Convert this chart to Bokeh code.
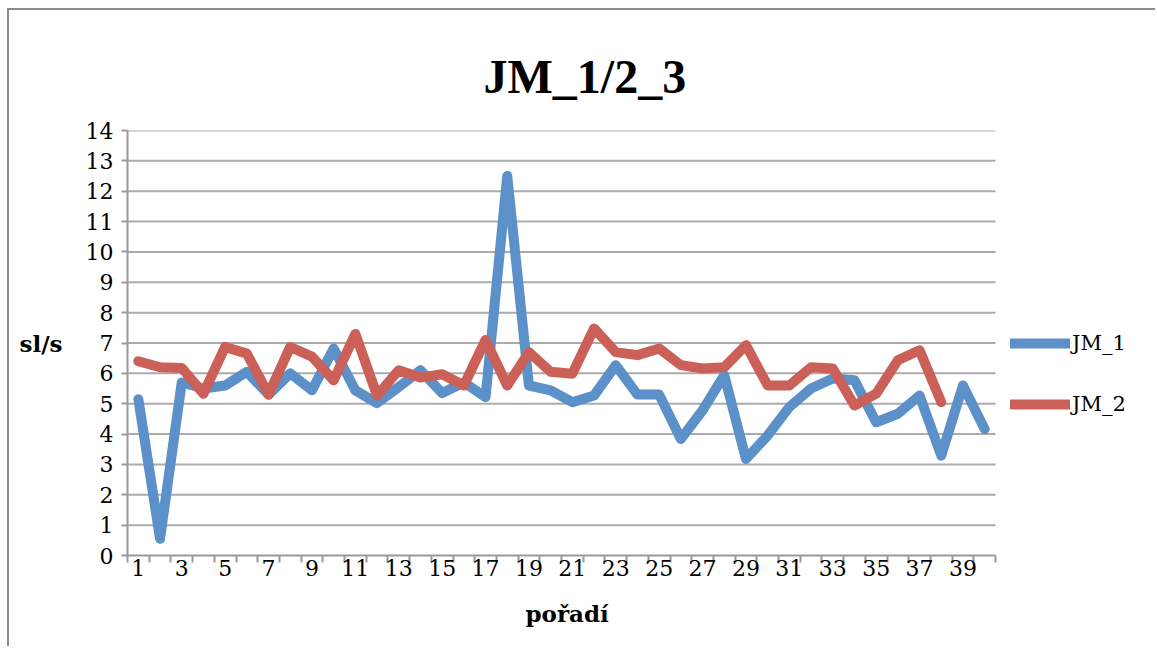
from bokeh.plotting import figure
from bokeh.models import FixedTicker, Legend, LegendItem, Range1d, Title
from bokeh.embed import file_html
from bokeh.resources import INLINE

categories = list(range(1, 41))
jm_1 = [5.15, 0.55, 5.7, 5.5, 5.6, 6.05, 5.3, 6.0, 5.44, 6.82,
        5.44, 5.02, 5.55, 6.1, 5.35, 5.7, 5.22, 12.5, 5.6, 5.44,
        5.05, 5.27, 6.27, 5.3, 5.3, 3.84, 4.78, 5.94, 3.18, 3.95,
        4.89, 5.5, 5.83, 5.77, 4.39, 4.67, 5.27, 3.29, 5.6, 4.17]
jm_2 = [6.4, 6.2, 6.18, 5.33, 6.87, 6.65, 5.3, 6.87, 6.55, 5.77,
        7.3, 5.27, 6.1, 5.86, 5.97, 5.6, 7.1, 5.6, 6.7, 6.05,
        5.99, 7.48, 6.7, 6.6, 6.82, 6.27, 6.16, 6.2, 6.93, 5.6,
        5.6, 6.2, 6.16, 4.94, 5.33, 6.43, 6.76, 5.05]
x_tick_labels = list(range(1, 41, 2))
y_ticks = list(range(0, 15))

TFONT = "Liberation Serif"
FONT = "DejaVu Serif"
BLUE = "#5B90C8"
RED = "#CB6058"
GRID = "#ABABAB"
AXIS = "#9A9A9A"

W, H = 1148, 638
LEFT, TOP, BOTTOM = 118, 120, 93
PLOT_W = 868  # pixel width of the category axis
n = len(categories)
x_lo, x_hi = 0.5, n + 0.5
x_end = x_lo + (W - LEFT) * n / PLOT_W

p = figure(width=W, height=H, output_backend="svg", toolbar_location=None,
           x_range=Range1d(x_lo, x_end), y_range=Range1d(y_ticks[0], y_ticks[-1]),
           min_border_left=LEFT, min_border_right=0, min_border_top=TOP,
           min_border_bottom=BOTTOM)
p.styles = {"border-left": "2px solid #8c8c8c", "border-top": "2px solid #8c8c8c",
            "margin-left": "7px", "margin-top": "8px"}
p.outline_line_color = None

p.title.text = "JM_1/2_3"
p.title.align = "left"
p.title.text_font = TFONT
p.title.text_font_size = "48px"
p.title.text_font_style = "bold"
p.title.text_color = "black"
p.title.offset = 356
p.title.standoff = 56

# horizontal grid lines limited to the category span
p.segment(x0=[x_lo] * (len(y_ticks) - 1), x1=[x_hi] * (len(y_ticks) - 1),
          y0=y_ticks[1:], y1=y_ticks[1:], line_color=GRID, line_width=2)

r1 = p.line(categories, jm_1, line_color=BLUE, line_width=10, line_join="round", line_cap="round")
r2 = p.line(categories[:len(jm_2)], jm_2, line_color=RED, line_width=10, line_join="round", line_cap="round")

p.xaxis.ticker = FixedTicker(ticks=x_tick_labels, minor_ticks=[i + 0.5 for i in range(0, n + 1)])
p.xaxis.bounds = (x_lo, x_hi)
p.yaxis.ticker = FixedTicker(ticks=y_ticks, minor_ticks=[])

for ax in (p.xaxis[0], p.yaxis[0]):
    ax.axis_line_color = AXIS
    ax.axis_line_width = 2
    ax.major_label_text_font = FONT
    ax.major_label_text_font_size = "22px"
    ax.major_label_text_color = "black"
    ax.axis_label_text_font = FONT
    ax.axis_label_text_font_size = "23px"
    ax.axis_label_text_font_style = "bold"
    ax.axis_label_text_color = "black"

p.xaxis.major_tick_line_color = None
p.xaxis.major_tick_out = 0
p.xaxis.major_tick_in = 0
p.xaxis.minor_tick_line_color = AXIS
p.xaxis.minor_tick_line_width = 2
p.xaxis.minor_tick_out = 7
p.xaxis.minor_tick_in = 0
p.xaxis.major_label_standoff = -3

xlabel = Title(text="pořadí", align="left", offset=398, standoff=38,
               text_font=FONT, text_font_size="23px", text_font_style="bold",
               text_color="black")
p.add_layout(xlabel, "below")

p.yaxis.major_tick_line_color = AXIS
p.yaxis.major_tick_line_width = 2
p.yaxis.major_tick_out = 6
p.yaxis.major_tick_in = 0
p.yaxis.minor_tick_line_color = None
p.yaxis.major_label_standoff = 8
p.yaxis.axis_label = "sl/s"
p.yaxis.axis_label_orientation = "horizontal"
p.yaxis.axis_label_standoff = 20

p.xgrid.grid_line_color = None
p.ygrid.grid_line_color = None

legend = Legend(items=[LegendItem(label="JM_1", renderers=[r1]),
                       LegendItem(label="JM_2", renderers=[r2])],
                location=(883, 139))
legend.padding = 0
legend.margin = 0
legend.border_line_color = None
legend.background_fill_alpha = 0
legend.glyph_width = 60
legend.glyph_height = 20
legend.label_height = 20
legend.label_standoff = 2
legend.spacing = 37
legend.label_text_font = FONT
legend.label_text_font_size = "21px"
legend.label_text_color = "black"
p.add_layout(legend, "center")

open("out.html", "w").write(file_html(p, INLINE))
